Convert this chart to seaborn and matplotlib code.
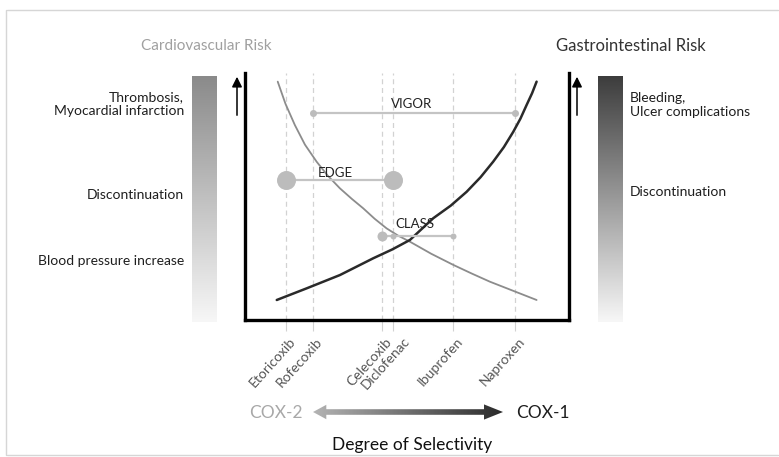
import numpy as np
import pandas as pd
import seaborn as sns
import matplotlib.pyplot as plt
from matplotlib.colors import LinearSegmentedColormap
from matplotlib.patches import FancyArrowPatch, Polygon
from matplotlib.lines import Line2D
from matplotlib.transforms import ScaledTranslation

# drugs on the selectivity axis (COX-2 selective -> COX-1 selective)
drugs = ["Etoricoxib", "Rofecoxib", "Celecoxib", "Diclofenac", "Ibuprofen", "Naproxen"]
drug_pos = [1.27, 2.09, 4.22, 4.56, 6.43, 8.33]

# cardiovascular risk curve (falls with lower COX-2 selectivity)
cv_x = [1.01, 1.25, 1.54, 1.85, 2.21, 2.55, 2.93, 3.30, 3.65, 4.00, 4.37, 4.72, 5.09, 5.75, 6.43, 7.00, 7.56, 8.30, 9.00]
cv_y = [9.65, 8.75, 7.89, 7.10, 6.41, 5.85, 5.33, 4.90, 4.52, 4.10, 3.71, 3.42, 3.17, 2.68, 2.23, 1.88, 1.55, 1.17, 0.81]

# gastrointestinal risk curve (rises towards COX-1)
gi_x = [0.98, 1.90, 2.93, 3.96, 4.55, 5.09, 5.81, 6.35, 6.84, 7.27, 7.66, 7.99, 8.28, 8.50, 8.69, 8.86, 9.00]
gi_y = [0.81, 1.28, 1.82, 2.50, 2.86, 3.24, 4.12, 4.63, 5.19, 5.78, 6.41, 7.00, 7.62, 8.15, 8.70, 9.18, 9.65]

# outcome trials and the drugs they compared
trials = ["VIGOR", "EDGE", "CLASS"]
trial_drugs = [["Rofecoxib", "Naproxen"],
               ["Etoricoxib", "Diclofenac"],
               ["Celecoxib", "Diclofenac", "Ibuprofen"]]
trial_level = [8.39, 5.67, 3.40]

cv_labels = ["Thrombosis,\nMyocardial infarction", "Discontinuation", "Blood pressure increase"]
gi_labels = ["Bleeding,\nUlcer complications", "Discontinuation"]

W, H = 779, 457


def fx(px):
    return px / W


def fy(py):
    return 1 - py / H


sns.set_theme(style="white")
plt.rcParams['font.family'] = ['Lato', 'DejaVu Sans']

fig = plt.figure(figsize=(W / 100, H / 100), dpi=100)
ax = fig.add_axes([fx(245), fy(320), fx(569) - fx(245), fy(73) - fy(320)])
ax.set_xlim(0, 10)
ax.set_ylim(0, 10)

# dashed guides at each drug
ax.vlines(drug_pos, 0, 10, colors="#d2d2d2", linestyles=(0, (4, 3)), linewidth=0.9, zorder=0)

# risk curves
curves = pd.concat([
    pd.DataFrame({"x": cv_x, "y": cv_y, "risk": "Cardiovascular"}),
    pd.DataFrame({"x": gi_x, "y": gi_y, "risk": "Gastrointestinal"}),
])
sns.lineplot(data=curves[curves.risk == "Cardiovascular"], x="x", y="y", sort=False,
             color="#8c8c8c", linewidth=1.3, ax=ax, legend=False)
sns.lineplot(data=curves[curves.risk == "Gastrointestinal"], x="x", y="y", sort=False,
             color="#2a2a2a", linewidth=1.8, ax=ax, legend=False)

# trial bars
pos = dict(zip(drugs, drug_pos))
dot_sizes = {"VIGOR": [7, 7], "EDGE": [19, 19], "CLASS": [10, 6, 6]}
label_xy = {"VIGOR": (5.15, 8.74), "EDGE": (2.78, 5.95), "CLASS": (5.25, 3.89)}
for name, ds, lev in zip(trials, trial_drugs, trial_level):
    xs = [pos[d] for d in ds]
    ax.plot([min(xs), max(xs)], [lev, lev], color="#c4c4c4", linewidth=1.6, zorder=2)
    for xv, s in zip(xs, dot_sizes[name]):
        ax.plot(xv, lev, "o", color="#bcbcbc", markersize=s * 0.72, markeredgewidth=0, zorder=3)
    lx, ly = label_xy[name]
    ax.text(lx, ly, name, ha="center", va="center", fontsize=9.5, color="#222222", zorder=4)

for s in ["left", "bottom", "right"]:
    ax.spines[s].set_color("black")
    ax.spines[s].set_linewidth(2.4)
ax.spines["top"].set_visible(False)
ax.set_yticks([])
ax.set_xticks(drug_pos)
ax.set_xticklabels(drugs, rotation=48, ha="right", va="top", rotation_mode="anchor",
                   fontsize=10, color="#555555")
ax.tick_params(axis="x", length=8, width=0.8, color="#d2d2d2", pad=3, bottom=True)
# nudge labels so the close Celecoxib / Diclofenac pair does not collide
for lab in ax.get_xticklabels():
    dx = 10 if lab.get_text() == "Diclofenac" else 3
    lab.set_transform(lab.get_transform() + ScaledTranslation(dx / 100, 0, fig.dpi_scale_trans))
ax.set_xlabel("")
ax.set_ylabel("")

# gradient bars for risk scales
def gradient_bar(x0, x1, top_color):
    bax = fig.add_axes([fx(x0), fy(322), fx(x1) - fx(x0), fy(76) - fy(322)])
    cmap = LinearSegmentedColormap.from_list("g", ["#f7f7f7", top_color])
    bax.imshow(np.linspace(1, 0, 256)[:, None], cmap=cmap, aspect="auto", vmin=0, vmax=1)
    bax.axis("off")


gradient_bar(192, 217, "#8a8a8a")
gradient_bar(598, 623, "#3c3c3c")

# small up arrows beside the axis
for xp in [237, 577]:
    fig.add_artist(FancyArrowPatch((fx(xp), fy(118)), (fx(xp), fy(74)), transform=fig.transFigure,
                                   arrowstyle="-|>,head_length=4,head_width=2", color="black",
                                   linewidth=1.1, mutation_scale=1.5))

# titles and side labels
fig.text(fx(206), fy(46), "Cardiovascular Risk", ha="center", va="center", fontsize=11, color="#a0a0a0")
fig.text(fx(631), fy(46), "Gastrointestinal Risk", ha="center", va="center", fontsize=12, color="#333333")
for lab, yp in zip(cv_labels, [104, 195, 261]):
    fig.text(fx(184), fy(yp), lab, ha="right", va="center", fontsize=10, color="#1e1e1e", linespacing=1.2)
for lab, yp in zip(gi_labels, [105, 192]):
    fig.text(fx(630), fy(yp), lab, ha="left", va="center", fontsize=10, color="#1e1e1e", linespacing=1.2)

# selectivity arrow
aax = fig.add_axes([fx(313), fy(420), fx(503) - fx(313), fy(404) - fy(420)])
aax.set_xlim(0, 1)
aax.set_ylim(-1, 1)
cmap = LinearSegmentedColormap.from_list("a", ["#b4b4b4", "#2a2a2a"])
im = aax.imshow(np.linspace(0, 1, 256)[None, :], cmap=cmap, aspect="auto", extent=[0, 1, -1, 1])
shape = Polygon([(0, 0), (0.07, 0.9), (0.07, 0.35), (0.9, 0.35), (0.9, 0.95), (1, 0),
                 (0.9, -0.95), (0.9, -0.35), (0.07, -0.35), (0.07, -0.9)],
                closed=True, transform=aax.transData, facecolor="none", edgecolor="none")
aax.add_patch(shape)
im.set_clip_path(shape)
aax.axis("off")

fig.text(fx(276), fy(413), "COX-2", ha="center", va="center", fontsize=12.5, color="#a8a8a8")
fig.text(fx(543), fy(413), "COX-1", ha="center", va="center", fontsize=12.5, color="#1e1e1e")
fig.text(fx(412), fy(445), "Degree of Selectivity", ha="center", va="center", fontsize=12.5, color="#111111")

# thin frame around the figure
frame = dict(color="#d6d6d6", linewidth=1.0, transform=fig.transFigure)
fig.add_artist(Line2D([fx(7), fx(778)], [fy(10), fy(10)], **frame))
fig.add_artist(Line2D([fx(6), fx(6)], [fy(10), fy(455)], **frame))
fig.add_artist(Line2D([fx(7), fx(778)], [fy(455), fy(455)], **frame))

fig.savefig("out.png", dpi=100)
